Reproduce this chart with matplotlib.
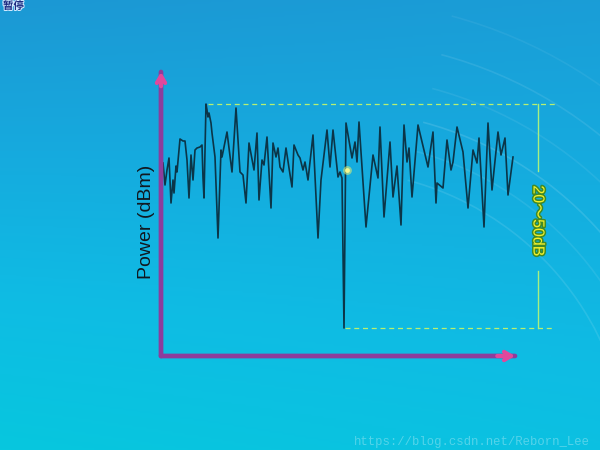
import numpy as np
import matplotlib
matplotlib.use("Agg")
import matplotlib.pyplot as plt
import matplotlib.patheffects as pe
from matplotlib.colors import LinearSegmentedColormap
from matplotlib.patches import Arc

# ---- data (frequency index, power in dBm) ----
freq = [2, 4, 6, 8, 10, 12, 13, 15, 16, 19, 22, 24, 26, 28, 30, 32, 34, 36, 39, 41,
        42, 43, 45, 46, 47, 48, 50, 51, 54, 57, 60, 61, 66, 71, 75, 79, 82, 85, 88, 93,
        96, 98, 101, 103, 106, 110, 112, 115, 117, 119, 122, 125, 128, 131, 133, 137,
        139, 142, 144, 147, 152, 157, 160, 166, 169, 172, 177, 179, 181, 183, 185, 191,
        194, 196, 198, 205, 212, 217, 219, 223, 229, 232, 236, 240, 243, 246, 248, 251,
        257, 267, 272, 275, 276, 282, 286, 290, 292, 296, 302, 307, 312, 316, 318, 323,
        327, 331, 337, 340, 344, 347, 352]
power = [-22.75, -28.25, -24.5, -21.5, -32.75, -27, -30.25, -23.5, -25, -16.75, -17.25,
         -17.25, -22, -31.5, -20.75, -27, -19.5, -19, -18.75, -18.25, -26.5, -31.5, -8,
         -9.5, -11.25, -10.25, -12.75, -15.25, -21.25, -41.5, -19.5, -21.25, -15, -25,
         -9, -25, -25.75, -32.75, -17.75, -24.5, -15.25, -32, -22, -23.25, -16.25, -34,
         -17.75, -21.25, -19, -23.75, -25, -19, -24, -28.75, -18.25, -20.75, -21.5, -24.5,
         -22.5, -27, -15.75, -41.5, -27, -14.5, -23.75, -14.5, -26.25, -25, -26.5, -64,
         -12.75, -21.5, -17.5, -22.5, -12.5, -38.75, -20.75, -26.5, -13.75, -36.25, -17.5,
         -31.25, -23.5, -38.25, -13.25, -22.5, -19, -31.25, -13.25, -23.75, -15, -32.75,
         -27.75, -29, -17, -24.5, -22.5, -13.75, -20, -34, -19.5, -22.75, -16.5, -38.75,
         -12.75, -29.5, -15, -20.75, -16.5, -30.75, -21.25]
marker_freq = [186]
marker_power = [-24.5]
range_label = "20～50dB"
ylabel = "Power (dBm)"
corner_label = "暂停"
watermark = "https://blog.csdn.net/Reborn_Lee"

W, H = 600, 450
fig = plt.figure(figsize=(6, 4.5), dpi=100)

# ---- background ----
bg = fig.add_axes([0, 0, 1, 1])
yy, xx = np.mgrid[0:1:225j, 0:1:300j]
val = 0.8 * yy + 0.2 * (1 - xx) * yy + 0.1 * xx * (1 - yy)
cmap = LinearSegmentedColormap.from_list("bgc", ["#1c98d4", "#16aade", "#0fbce4", "#07c7de"])
bg.imshow(val, extent=[0, W, H, 0], aspect="auto", cmap=cmap, vmin=0, vmax=1, interpolation="bilinear")
for r, a in [(300, 0.10), (330, 0.08), (360, 0.12), (395, 0.07), (430, 0.09), (470, 0.06)]:
    bg.add_patch(Arc((330, 470), 2 * r, 2 * r, theta1=285, theta2=350, color="white", lw=1.2, alpha=a))
bg.set_xlim(0, W)
bg.set_ylim(H, 0)
bg.axis("off")

# ---- main axes ----
x0, x1, ytop, ybot = 161, 515, 72, 356
ax = fig.add_axes([x0 / W, (H - ybot) / H, (x1 - x0) / W, (ybot - ytop) / H])
ax.set_xlim(0, 354)
ax.set_ylim(-71, 0)
ax.patch.set_alpha(0)
ax.axis("off")

ax.plot(freq, power, color="#0b3548", lw=1.2, zorder=3)
ax.scatter(marker_freq, marker_power, s=40, color="#e8f070", alpha=0.55, zorder=4, lw=0)
ax.scatter(marker_freq, marker_power, s=12, color="#f4f890", zorder=5, lw=0)

pmax, pmin = max(power), min(power)
fmax = freq[power.index(pmax)]
fmin = freq[power.index(pmin)]
xend = 394
dash_c = "#b8f070"
ax.plot([fmax + 2, xend], [pmax, pmax], color=dash_c, lw=0.9, ls=(0, (4, 3)), clip_on=False, zorder=2)
ax.plot([fmin + 1, xend], [pmin, pmin], color=dash_c, lw=0.9, ls=(0, (4, 3)), clip_on=False, zorder=2)
xv = 377
mid = (pmax + pmin) / 2 - 1.2
ax.plot([xv, xv], [pmax, mid + 12.5], color="#a8f080", lw=1.0, clip_on=False)
ax.plot([xv, xv], [mid - 12.5, pmin], color="#a8f080", lw=1.0, clip_on=False)
ax.text(xv, mid, range_label, rotation=-90, ha="center", va="center", fontsize=11.5,
        color="#f4f028", family=["Liberation Sans", "Noto Sans CJK SC"], clip_on=False,
        path_effects=[pe.withStroke(linewidth=2.2, foreground="#3f8a28")])

# axis arrows
shaft = "#8c3d9c"
head = "#e0489c"
ax.annotate("", xy=(0, 1.0), xytext=(0, 0), xycoords="axes fraction",
            arrowprops=dict(arrowstyle="-", color=shaft, lw=3.4, shrinkA=0, shrinkB=0))
ax.annotate("", xy=(1.0, 0), xytext=(0, 0), xycoords="axes fraction",
            arrowprops=dict(arrowstyle="-", color=shaft, lw=3.4, shrinkA=0, shrinkB=0))
ax.annotate("", xy=(0, 1.0), xytext=(0, 0.95), xycoords="axes fraction",
            arrowprops=dict(arrowstyle="->,head_length=0.5,head_width=0.3", color=head, lw=3,
                            shrinkA=0, shrinkB=0))
ax.annotate("", xy=(1.0, 0), xytext=(0.95, 0), xycoords="axes fraction",
            arrowprops=dict(arrowstyle="->,head_length=0.5,head_width=0.3", color=head, lw=3,
                            shrinkA=0, shrinkB=0))

ax.text(-0.042, 0.472, ylabel, rotation=90, ha="center", va="center", fontsize=14,
        color="#111820", family="Liberation Sans", transform=ax.transAxes)

# slide decorations
fig.text(3 / W, 1 - 6 / H, corner_label, fontsize=7.5, color="#1c2a80", ha="left", va="center",
         family=["Noto Sans CJK SC", "DejaVu Sans"], weight="bold",
         path_effects=[pe.withStroke(linewidth=1.5, foreground="#d0e8ff")])
fig.text(590 / W, 1 - 442 / H, watermark, fontsize=8.8, color="white", alpha=0.3,
         ha="right", va="center", family="Liberation Mono")

fig.savefig("out.png", dpi=100)
